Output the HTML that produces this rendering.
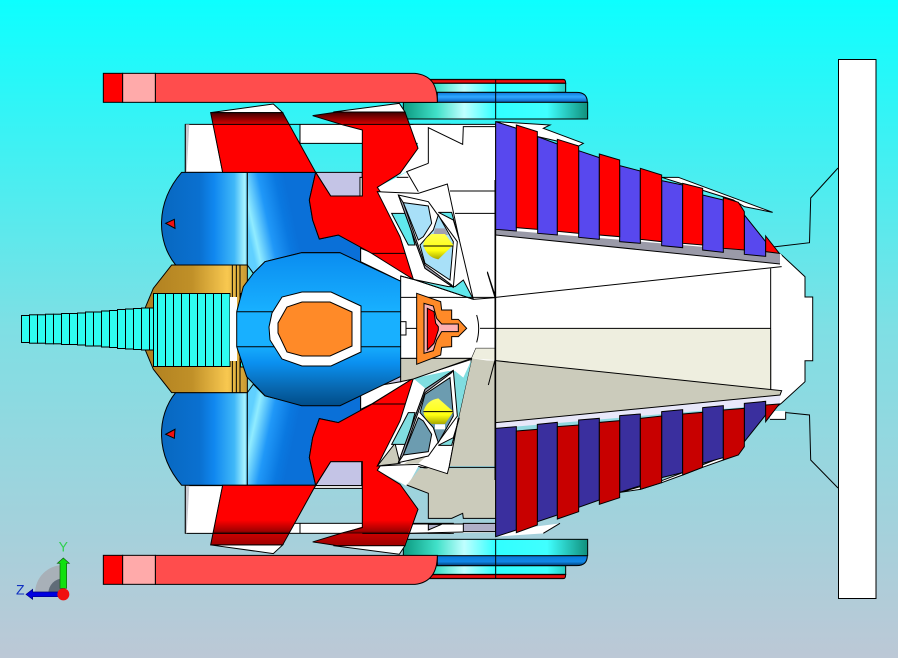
<!DOCTYPE html>
<html><head><meta charset="utf-8"><style>html,body{margin:0;padding:0;background:#7fe}svg{display:block}</style></head><body>
<svg xmlns="http://www.w3.org/2000/svg" width="898" height="658" viewBox="0 0 898 658">
<defs>
<linearGradient id="bg" x1="0" y1="0" x2="0" y2="1"><stop offset="0" stop-color="#0cffff"/><stop offset=".5" stop-color="#7fdfe4"/><stop offset="1" stop-color="#bcc8d6"/></linearGradient>
<linearGradient id="teal" gradientUnits="userSpaceOnUse" x1="70" y1="0" x2="623" y2="0"><stop offset="0" stop-color="#0c9a80"/><stop offset=".18" stop-color="#40e0c8"/><stop offset=".33" stop-color="#c0ffff"/><stop offset=".5" stop-color="#30ffff"/><stop offset=".78" stop-color="#40ffff"/><stop offset="1" stop-color="#10907c"/></linearGradient>
<linearGradient id="wb" x1="0" y1="0" x2="0" y2="1"><stop offset="0" stop-color="#0878d8"/><stop offset=".45" stop-color="#30a8ff"/><stop offset="1" stop-color="#0860c0"/></linearGradient>
<linearGradient id="wb2" x1="0" y1="0" x2="0" y2="1"><stop offset="0" stop-color="#0878d8"/><stop offset=".6" stop-color="#1088e8"/><stop offset="1" stop-color="#003c70"/></linearGradient>
<linearGradient id="wr" x1="0" y1="0" x2="0" y2="1"><stop offset="0" stop-color="#a00000"/><stop offset=".5" stop-color="#f01010"/><stop offset="1" stop-color="#b00000"/></linearGradient>
<linearGradient id="blL" gradientUnits="userSpaceOnUse" x1="482" y1="0" x2="742" y2="0"><stop offset="0" stop-color="#0868c0"/><stop offset=".45" stop-color="#0a70d0"/><stop offset=".62" stop-color="#1088f0"/><stop offset=".85" stop-color="#40b8f8"/><stop offset=".97" stop-color="#a8f4ff"/><stop offset="1" stop-color="#60d0ff"/></linearGradient>
<linearGradient id="blR" gradientUnits="userSpaceOnUse" x1="742" y1="500" x2="880" y2="470"><stop offset="0" stop-color="#60d0ff"/><stop offset=".12" stop-color="#90ecff"/><stop offset=".45" stop-color="#2098f8"/><stop offset=".8" stop-color="#0a78e0"/><stop offset="1" stop-color="#0a70d8"/></linearGradient>
<linearGradient id="gold" gradientUnits="userSpaceOnUse" x1="440" y1="0" x2="742" y2="0"><stop offset="0" stop-color="#b08020"/><stop offset=".45" stop-color="#c09028"/><stop offset=".8" stop-color="#f8c850"/><stop offset="1" stop-color="#c89830"/></linearGradient>
<linearGradient id="body" gradientUnits="userSpaceOnUse" x1="0" y1="252" x2="0" y2="406"><stop offset="0" stop-color="#0a8cf0"/><stop offset=".38" stop-color="#18b0ff"/><stop offset=".6" stop-color="#18b0ff"/><stop offset=".72" stop-color="#0a90f0"/><stop offset=".88" stop-color="#0868b0"/><stop offset="1" stop-color="#004c88"/></linearGradient>
<linearGradient id="bandU" x1="0" y1="0" x2="0" y2="1"><stop offset="0" stop-color="#400000"/><stop offset="1" stop-color="#d80000"/></linearGradient>
<linearGradient id="bandL" x1="0" y1="0" x2="0" y2="1"><stop offset="0" stop-color="#ff0000"/><stop offset=".45" stop-color="#a00000"/><stop offset=".53" stop-color="#400000"/><stop offset=".55" stop-color="#c80000"/><stop offset="1" stop-color="#a00000"/></linearGradient>
<linearGradient id="yel" x1="0" y1="0" x2="0" y2="1"><stop offset="0" stop-color="#ffff50"/><stop offset=".65" stop-color="#ffff10"/><stop offset="1" stop-color="#a8a800"/></linearGradient>
</defs>
<rect width="898" height="658" fill="url(#bg)"/>

<g stroke="#000" stroke-width="1">
<rect x="838.5" y="59.5" width="37.5" height="539" fill="#fff"/>
<polyline points="838,168 810.7,198 809.5,242.7 773,247" fill="none"/>
<polyline points="838,488 810.7,460 809.5,415 775,411.5" fill="none"/>
<polygon points="770,247 781.7,255 805,276.7 805,297 812.7,297 812.7,360.7 805,360.7 805,381.7 781.7,403 770,412" fill="#fff"/>
</g>

<!-- top wheels -->
<g transform="translate(380,60) scale(.33333)" stroke="#000" stroke-width="3">
<path d="M150,58H550Q557,58 557,70H150Z" fill="url(#wr)"/>
<rect x="150" y="70" width="407" height="27" fill="url(#teal)"/>
<path d="M172,97H590Q622,97 622,127H172Z" fill="url(#wb)"/>
<rect x="70" y="127" width="553" height="50" fill="url(#teal)"/>
<line x1="347" y1="58" x2="347" y2="177"/>
</g>
<!-- bottom wheels -->
<g transform="translate(380,330) scale(.33333)" stroke="#000" stroke-width="3">
<path d="M150,733H557Q557,746 550,746H150Z" fill="url(#wr)"/>
<rect x="150" y="707" width="407" height="26" fill="url(#teal)"/>
<path d="M172,677H622Q622,707 590,707H172Z" fill="url(#wb2)"/>
<rect x="70" y="628" width="553" height="49" fill="url(#teal)"/>
<line x1="347" y1="628" x2="347" y2="746"/>
</g>

<!-- frames left -->
<g transform="translate(0,60) scale(.33333)" stroke="#000" stroke-width="3">
<polygon points="556,193 1350,193 1350,250 900,250 900,193 640,193 668,337 556,337" fill="#fff"/>
<polygon points="556,193 568,193 560,337 556,337" fill="#c8c8d0" stroke="none"/>
<line x1="556" y1="193" x2="556" y2="337"/>
<polygon points="947,337 1087,337 1087,408 992,408" fill="#c4c4e6"/>
<polygon points="1087,337 1087,408 1080,408 1080,352 1087,352" fill="#fff"/>
</g>
<g transform="translate(0,330) scale(.33333)" stroke="#000" stroke-width="3">
<polygon points="556,467 668,467 640,610 556,610" fill="#fff"/>
<polygon points="556,467 568,467 560,610 556,610" fill="#c8c8d0" stroke="none"/>
<line x1="556" y1="467" x2="556" y2="610"/>
<rect x="860" y="580" width="500" height="30" fill="#fff"/>
<line x1="900" y1="580" x2="900" y2="610"/>
<polygon points="947,467 1085,467 1085,395 992,395" fill="#c4c4e6"/>
<polygon points="947,467 1087,467 1087,475 942,475" fill="#fff"/>
<polygon points="1285,582 1350,582 1350,610 1285,610" fill="#fff"/>
</g>

<!-- white star patches beside the eyes -->
<g transform="translate(0,60) scale(.33333)" stroke="#000" stroke-width="3">
<polygon points="1132,382 1190,352 1222,335 1255,395 1340,373 1350,460 1205,460 1175,458" fill="#fff" stroke="none"/>
<line x1="1190" y1="352" x2="1225" y2="352"/>
<line x1="1175" y1="458" x2="1205" y2="458"/>
</g>
<g transform="translate(0,330) scale(.33333)" stroke="#000" stroke-width="3">
<polygon points="1132,422 1190,452 1222,469 1255,409 1340,431 1350,344 1205,344 1175,346" fill="#fff" stroke="none"/>
<line x1="1175" y1="346" x2="1205" y2="346"/>
<polyline points="1255,409 1340,431" fill="none"/>
</g>

<!-- main white body (right) -->
<g transform="translate(380,60) scale(.33333)" stroke="#000" stroke-width="3">
<polygon points="50,193 347,193 347,200 250,200 248,253 145,203 145,310 80,335 50,350 80,310 115,260 100,193" fill="#fff" stroke="none"/>
<line x1="85" y1="193" x2="347" y2="193"/>
<polygon points="347,200 1172,600 1205,585 1205,620 1172,625 1172,1000 60,1000 60,645 115,395 80,335 145,310 145,203 248,253 250,200" fill="#fff" stroke="none"/>
<polyline points="145,310 145,203 248,253 250,200 347,200" fill="none"/>
<polyline points="145,310 80,335 115,395" fill="none"/>
<line x1="210" y1="393" x2="347" y2="393"/>
<line x1="225" y1="460" x2="347" y2="460"/>
<polygon points="347,712 1205,620 1205,585 1200,580 1200,612 347,525" fill="#fff" stroke="none"/>
<polygon points="347,508 347,525 1200,612 1200,580" fill="#9a9aa8" stroke="none"/>
<polyline points="347,525 1200,612" fill="none"/>
<line x1="347" y1="712" x2="1205" y2="620"/>
<polyline points="322,635 347,712" fill="none"/>
<rect x="347" y="805" width="825" height="200" fill="#eeeedf" stroke="none"/>
<line x1="347" y1="805" x2="1172" y2="805"/>
<line x1="1172" y1="625" x2="1172" y2="1000"/>
<line x1="347" y1="190" x2="347" y2="1000"/>
</g>
<g transform="translate(380,330) scale(.33333)" stroke="#000" stroke-width="3">
<rect x="347" y="0" width="825" height="200" fill="#eeeedf" stroke="none"/>
<polygon points="347,92 1205,182 1200,195 347,278" fill="#cbcbbb" stroke="none"/>
<polygon points="347,278 1200,195 1200,222 347,295" fill="#e8e8fa" stroke="none"/>
<polyline points="347,92 1205,182 1200,195 347,278" fill="none"/>
<polyline points="1172,0 1172,180" fill="none"/>
<polygon points="280,92 347,92 347,405 213,405 240,265" fill="#cbcbbb" stroke="none"/>
<polyline points="280,92 240,265 213,405 347,405" fill="none"/>
<polygon points="80,465 120,415 347,415 347,565 250,565 248,550 215,565 145,565 145,490" fill="#cbcbbb" stroke="none"/>
<polyline points="80,465 145,490 145,565 215,565 248,550 250,565 347,565" fill="none"/>
<polyline points="120,412 347,412" fill="none"/>
<polygon points="90,582 347,582 347,608 75,610" fill="#fff" stroke="none"/>
<polygon points="250,580 347,580 347,605 250,605" fill="#b0b0c8"/>
<polygon points="145,583 185,583 145,600" fill="#b0b0c8"/>
<polyline points="85,582 250,582" fill="none"/>
<polyline points="75,610 250,606" fill="none"/>
<rect x="1170" y="243" width="47" height="25" fill="#fff" stroke="none"/>
<line x1="1217" y1="245" x2="1217" y2="268"/>
<line x1="1170" y1="268" x2="1217" y2="268"/>
<polyline points="322,165 347,92" fill="none"/>
<line x1="347" y1="0" x2="347" y2="620"/>
</g>

<!-- fins upper -->
<g transform="translate(380,60) scale(.33333)" stroke="#000" stroke-width="3">
<polygon points="347,185 510,195 490,205 610,250 596,258 473,230 410,205" fill="#fff"/>
<polygon points="845,352 895,352 1178,457 1093,440 1060,420 908,372" fill="#fff"/>
<g fill="#5848ee">
<polygon points="347,185 409,205 409,513 347,508"/>
<polygon points="473,230 532,252 532,525 473,520"/>
<polygon points="596,272 658,293 658,538 596,532"/>
<polygon points="719,317 781,333 781,550 719,545"/>
<polygon points="845,362 908,375 908,563 845,557"/>
<polygon points="968,405 1030,420 1030,577 968,570"/>
<polygon points="1093,465 1157,545 1157,589 1093,583"/>
</g>
<g fill="#ff0000">
<polygon points="409,195 472,215 472,508 409,503"/>
<polygon points="532,238 596,258 596,520 532,514"/>
<polygon points="658,282 719,300 719,530 658,525"/>
<polygon points="781,325 845,345 845,545 781,538"/>
<polygon points="908,370 968,385 968,555 908,550"/>
<polygon points="1030,413 1075,427 1093,455 1093,570 1030,565"/>
<polygon points="1157,528 1198,580 1157,575"/>
</g>
</g>
<!-- fins lower -->
<g transform="translate(380,330) scale(.33333)" stroke="#000" stroke-width="3">
<polygon points="347,605 540,580 490,610 347,620" fill="#fff" stroke="none"/>
<polyline points="540,580 490,610" fill="none"/>
<polygon points="720,487 845,452 908,428 1030,380 1030,390 968,412 908,435 845,458 781,478" fill="#fff"/>
<g fill="#3a2f9e">
<polygon points="347,295 409,290 409,600 347,620"/>
<polygon points="472,283 532,277 532,555 472,575"/>
<polygon points="596,270 658,265 658,510 596,532"/>
<polygon points="719,257 781,252 781,467 719,487"/>
<polygon points="845,245 908,239 908,428 845,443"/>
<polygon points="968,233 1030,227 1030,383 968,400"/>
<polygon points="1093,220 1157,214 1157,255 1093,335"/>
</g>
<g fill="#c80000">
<polygon points="409,303 472,298 472,585 409,608"/>
<polygon points="532,290 596,285 596,545 532,567"/>
<polygon points="658,277 719,272 719,503 658,523"/>
<polygon points="781,265 845,258 845,458 781,478"/>
<polygon points="908,252 968,247 968,412 908,435"/>
<polygon points="1030,240 1093,235 1093,350 1075,375 1030,390"/>
<polygon points="1157,225 1198,222 1157,275"/>
</g>
</g>

<!-- left blue / gold -->
<g id="leftBlue" transform="translate(0,60) scale(.33333)" stroke="#000" stroke-width="3">
<path d="M545,337H742V615H527C470,545 465,430 545,337Z" fill="url(#blL)"/>
<polygon points="742,337 947,337 928,420 938,480 958,537 1015,525 1082,560 1082,610 1020,578 905,578 795,605 760,640 742,615" fill="url(#blR)"/>
<polygon points="497,490 523,478 525,505" fill="#f01010"/>
</g>
<use href="#leftBlue" transform="matrix(1 0 0 -1 0 657.6)"/>
<g id="goldU" transform="translate(0,60) scale(.33333)" stroke="#000" stroke-width="3">
<polygon points="515,615 742,615 742,755 435,755 435,745 460,685" fill="url(#gold)"/>
<line x1="697" y1="615" x2="697" y2="755"/>
<line x1="709" y1="615" x2="709" y2="755"/>
<line x1="720" y1="615" x2="720" y2="755"/>
</g>
<use href="#goldU" transform="matrix(1 0 0 -1 0 657.6)"/>
<rect x="145" y="310" width="90" height="38" fill="#c09028"/>

<!-- nozzle -->
<g stroke="#000" stroke-width="1" fill="#2ffcf0">
<rect x="21.5" y="315.5" width="8" height="27"/>
<rect x="29.5" y="314.8" width="8" height="28.4"/>
<rect x="37.5" y="314.8" width="8" height="28.4"/>
<rect x="45.5" y="314.2" width="8" height="29.6"/>
<rect x="53.5" y="314.2" width="8" height="29.6"/>
<rect x="61.5" y="313.5" width="8" height="31"/>
<rect x="69.5" y="313.5" width="8" height="31"/>
<rect x="77.5" y="313" width="8" height="32"/>
<rect x="85.5" y="312" width="8" height="34"/>
<rect x="93.5" y="312" width="8" height="34"/>
<rect x="101.5" y="311" width="8" height="36"/>
<rect x="109.5" y="310.5" width="8" height="37"/>
<rect x="117.5" y="309.5" width="8" height="39"/>
<rect x="125.5" y="309" width="8" height="40"/>
<rect x="133.5" y="308.5" width="8" height="41"/>
<rect x="141.5" y="308" width="8" height="42"/>
<rect x="149.5" y="308" width="4" height="42"/>
<rect x="153.5" y="293.5" width="76.5" height="73"/>
<path d="M157.5,293.5V366.5M165.5,293.5V366.5M173.5,293.5V366.5M181.5,293.5V366.5M189.5,293.5V366.5M197.5,293.5V366.5M205.5,293.5V366.5M213.5,293.5V366.5M221.5,293.5V366.5" fill="none"/>
<rect x="230" y="297" width="7" height="64" fill="#fff" stroke="none"/>
<rect x="240.5" y="293.5" width="6" height="2.5"/>
<rect x="240.5" y="362" width="6" height="5"/>
</g>

<!-- white strip + reds -->
<g transform="translate(0,60) scale(.33333)" stroke="#000" stroke-width="3">
<polygon points="1082,565 1120,580 1243,660 1205,665 1082,605" fill="#fff"/>
</g>
<g transform="translate(0,330) scale(.33333)" stroke="#000" stroke-width="3">
<polygon points="1082,195 1205,130 1240,145 1115,222 1082,238" fill="#fff"/>
<polygon points="1145,165 1203,138 1203,155" fill="#c4c4e6"/>
</g>
<g id="tabs" transform="translate(0,60) scale(.33333)" stroke="#000" stroke-width="3">
<polygon points="632,158 820,132 848,158" fill="#fff"/>
<polygon points="1000,156 1198,130 1215,156" fill="#fff"/>
</g>
<use href="#tabs" transform="matrix(1 0 0 -1 0 657.6)"/>
<g id="redF" transform="translate(0,60) scale(.33333)">
<polygon points="632,158 848,158 947,337 668,337" fill="#ff0000"/>
<polygon points="938,167 1012,156 1215,156 1254,265 1200,340 1132,382 1205,490 1220,530 1228,580 1243,660 1115,580 1015,525 958,537 938,480 928,420 947,337 992,408 1087,408 1087,210 1030,195" fill="#ff0000"/>
</g>
<use href="#redF" transform="matrix(1 0 0 -1 0 657.6)"/>
<g transform="translate(0,60) scale(.33333)" stroke="#000" stroke-width="3">
<polygon points="632,158 848,158 867,193 640,193" fill="url(#bandU)" stroke="none"/>
<polygon points="938,167 1012,156 1215,156 1228,193 1030,193" fill="url(#bandU)" stroke="none"/>
<line x1="640" y1="193" x2="867" y2="193"/>
<line x1="1030" y1="193" x2="1228" y2="193"/>
<line x1="1115" y1="580" x2="1228" y2="580"/>
</g>
<g transform="translate(0,330) scale(.33333)" stroke="#000" stroke-width="3">
<polygon points="647,570 889,570 848,645 632,645" fill="url(#bandL)" stroke="none"/>
<polygon points="1087,590 1087,570 1238,570 1213,645 1015,645 938,637" fill="url(#bandL)" stroke="none"/>
<line x1="640" y1="610" x2="867" y2="610"/>
<line x1="1087" y1="610" x2="1228" y2="610"/>
<line x1="1115" y1="222" x2="1228" y2="222"/>
</g>
<g id="redO" transform="translate(0,60) scale(.33333)" stroke="#000" stroke-width="3" fill="none">
<polygon points="632,158 848,158 947,337 668,337"/>
<polygon points="938,167 1012,156 1215,156 1254,265 1200,340 1132,382 1205,490 1220,530 1228,580 1243,660 1115,580 1015,525 958,537 938,480 928,420 947,337 992,408 1087,408 1087,210 1030,195"/>
</g>
<use href="#redO" transform="matrix(1 0 0 -1 0 657.6)"/>

<!-- center body -->
<g stroke="#000" stroke-width="1">
<polygon points="236.7,311.7 243.3,286.7 253.3,273.3 265,261.7 301.7,252.7 340,252.7 401.7,281.7 401.7,376 340,405.7 301.7,405.7 265,395.7 246.7,376.7 236.7,346.7" fill="url(#body)"/>
<line x1="236.7" y1="311.7" x2="401.7" y2="311.7"/>
<line x1="236.7" y1="346.7" x2="401.7" y2="346.7"/>
<polygon points="269,327 272,313 282,297 302,292 331,292 361,306 361,352 331,366 302,366 282,359 270,340" fill="#fff"/>
<polygon points="278,323 287,307 302,302 330,302 352,312 352,346 330,356 302,356 287,352 278,333" fill="#ff8a28"/>
</g>

<!-- red bars -->
<g transform="translate(0,60) scale(.33333)" stroke="#000" stroke-width="3">
<path d="M466,40H1245C1290,45 1312,70 1312,127H466Z" fill="#ff4d4d"/>
<rect x="310" y="40" width="58" height="87" fill="#ff0000"/>
<rect x="368" y="40" width="98" height="87" fill="#ffaaaa"/>
</g>
<g transform="translate(0,330) scale(.33333)" stroke="#000" stroke-width="3">
<path d="M466,676H1312C1312,730 1290,758 1245,763H466Z" fill="#ff4d4d"/>
<rect x="310" y="676" width="58" height="87" fill="#ff0000"/>
<rect x="368" y="676" width="98" height="87" fill="#ffaaaa"/>
</g>

<!-- eye + center panel -->
<g transform="translate(370,180) scale(.33333)" stroke="#000" stroke-width="3">
<polygon points="22,35 85,38 145,40 232,12 268,180 310,358 130,298 90,170" fill="#fff"/>
<polygon points="65,100 110,100 135,195 115,195" fill="#60e8ec"/>
<polygon points="205,97 245,97 268,180 250,120" fill="#60e8ec"/>
<polygon points="130,298 235,320 255,320 280,300 310,358" fill="#60e8ec"/>
<polygon points="85,45 175,65 200,100 262,185 250,322 165,265" fill="#fff"/>
<polygon points="85,45 100,68 165,255 245,315 250,322 165,265" fill="#a0a0b0"/>
<polygon points="100,68 175,78 185,130 160,170 145,180" fill="#a8e0f8"/>
<polygon points="205,105 250,185 240,300 165,250 150,195 190,150" fill="#a8e0f8"/>
<polygon points="195,145 225,145 235,165 190,165" fill="#a0a0b0" stroke="none"/>
<path d="M160,195Q162,175 185,162L225,162L250,195L205,238Q170,232 160,195Z" fill="url(#yel)" stroke="none"/>
<line x1="160" y1="198" x2="250" y2="198"/>
</g>
<g transform="translate(370,180) scale(.33333)" stroke="#000" stroke-width="3">
<polygon points="22,858 85,855 145,853 232,881 238,858 265,715 305,538 130,595 90,723" fill="#fff"/>
<polygon points="305,535 375,545 375,858 238,858 265,715" fill="#cbcbbb" stroke="none"/>
<polyline points="305,535 265,715 238,858" fill="none"/>
<polygon points="22,858 90,850 75,790" fill="#cbcbbb"/>
<polygon points="120,840 180,820 145,850 100,853" fill="#cbcbbb" stroke="none"/>
<polygon points="65,793 110,793 135,698 115,698" fill="#80dde0"/>
<polygon points="205,796 245,796 268,713 250,773" fill="#80dde0"/>
<polygon points="130,595 235,573 255,573 280,593 305,538 265,715 255,700" fill="#80dde0" stroke="none"/>
<polygon points="85,848 175,828 200,793 262,708 250,571 165,628" fill="#fff"/>
<polygon points="85,848 100,825 165,638 245,578 250,571 165,628" fill="#a0a0b0"/>
<polygon points="100,825 175,815 185,763 160,723 145,713" fill="#6c9cb0"/>
<polygon points="205,788 250,708 240,593 165,643 150,698 190,743" fill="#6c9cb0"/>
<rect x="195" y="733" width="30" height="15" fill="#fff" stroke="none"/>
<path d="M160,695Q162,715 185,732L225,732L250,695L205,655Q170,660 160,695Z" fill="url(#yel)" stroke="none"/>
<line x1="160" y1="695" x2="250" y2="695"/>
</g>
<g transform="translate(370,180) scale(.33333)" stroke="#000" stroke-width="3">
<polygon points="92,288 130,298 310,358 375,353 375,505 318,505 305,535 92,535" fill="#fff"/>
<polygon points="318,505 375,505 375,540 305,535" fill="#eeeedf" stroke="none"/>
<polygon points="92,535 305,535 130,597 92,605" fill="#cbcbbb"/>
<polyline points="92,288 130,298 310,358" fill="none"/>
<line x1="92" y1="352" x2="375" y2="352"/>
<line x1="92" y1="445" x2="260" y2="445"/>
<line x1="330" y1="445" x2="375" y2="445"/>
<rect x="92" y="425" width="16" height="40" fill="#fff"/>
<polygon points="140,340 212,365 215,390 245,390 245,418 265,418 290,445 265,470 245,470 245,500 215,502 212,525 140,553" fill="#ff8a28"/>
<polygon points="162,370 190,378 200,415 215,432 265,432 265,455 215,455 200,480 190,512 162,520" fill="#ffb0b0"/>
<polygon points="172,385 192,395 197,430 205,440 205,450 192,490 172,510" fill="#ff0000"/>
<path d="M320,405Q332,445 320,487" fill="none"/>
<line x1="352" y1="278" x2="375" y2="353"/>
<path d="M375,540L355,615" fill="none"/>
<line x1="375" y1="0" x2="375" y2="900"/>
</g>

<!-- triad -->
<g transform="translate(0,530) scale(.33333)">
<path d="M190,190H105A85,85 0 0 1 190,105Z" fill="#a8b0b8"/>
<path d="M190,190H145A45,45 0 0 1 190,145Z" fill="#606c78"/>
<polygon points="180,175 180,100 172,100 190,84 208,100 200,100 200,175" fill="#10e010" stroke="#106010" stroke-width="2"/>
<polygon points="178,186 98,186 98,178 78,193 98,208 98,200 178,200" fill="#0000e0" stroke="#000080" stroke-width="2"/>
<circle cx="190" cy="193" r="18" fill="#f01010"/>
<text x="176" y="65" font-family="Liberation Sans, sans-serif" font-size="42" fill="#30d050">Y</text>
<text x="48" y="194" font-family="Liberation Sans, sans-serif" font-size="42" fill="#1030c0">Z</text>
</g>
</svg>
</body></html>
